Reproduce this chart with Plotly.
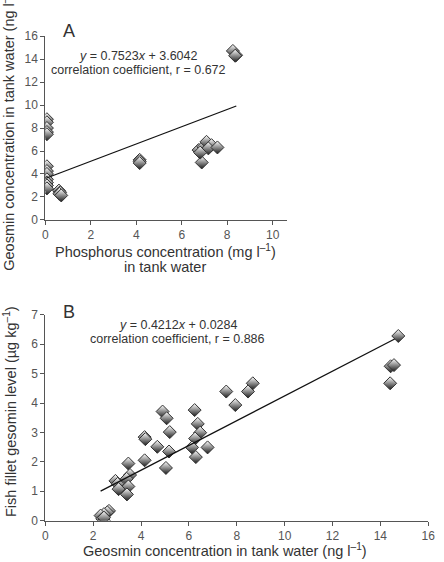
import plotly.graph_objects as go

# Panel A data: phosphorus (mg/l) vs geosmin in tank water (ng/l)
phos = [0.07, 0.07, 0.07, 0.07, 0.07, 0.07, 0.07, 0.07, 0.07, 0.07, 0.07, 0.07,
        0.60, 0.65, 0.62, 0.70,
        4.15, 4.15, 4.15,
        6.74, 6.95, 7.09, 7.31, 7.17, 7.57, 6.88, 6.81,
        8.25, 8.39, 8.35]
geo_water_a = [8.77, 8.50, 8.00, 7.65, 7.46, 4.67, 4.25, 4.00, 3.53, 3.25, 3.00, 2.74,
               2.55, 2.40, 2.27, 2.13,
               5.23, 5.10, 4.95,
               6.08, 6.37, 6.80, 6.51, 6.23, 6.31, 5.00, 5.86,
               14.72, 14.35, 14.30]
fit_a = dict(slope=0.7523, intercept=3.6042, x0=0.0, x1=8.4)

# Panel B data: geosmin in tank water (ng/l) vs fillet geosmin (ug/kg)
geo_water_b = [14.75, 14.43, 14.57, 14.41, 8.67, 8.47, 7.56, 7.94, 6.24, 4.90,
               5.07, 6.37, 6.47, 5.20, 6.26, 4.15, 4.18, 4.68, 5.17, 6.13,
               6.78, 6.29, 5.04, 4.15, 3.47, 3.54, 3.40, 2.93, 3.02, 3.47,
               3.06, 3.41, 2.66, 2.59, 2.45, 2.31, 2.38, 2.45, 2.45]
fillet = [6.28, 5.25, 5.29, 4.67, 4.67, 4.39, 4.39, 3.93, 3.76, 3.71,
          3.48, 3.29, 2.99, 3.01, 2.79, 2.84, 2.77, 2.51, 2.35, 2.49,
          2.49, 2.16, 1.79, 2.05, 1.94, 1.55, 1.42, 1.35, 1.25, 1.16,
          1.07, 0.89, 0.33, 0.28, 0.22, 0.17, 0.06, 0.00, 0.10]
fit_b = dict(slope=0.4212, intercept=0.0284, x0=2.31, x1=14.6)

W, H = 444, 562
def px(x):
    return x / W
def py(y):
    return 1 - y / H

marker = dict(symbol="diamond", size=10, color="white",
              gradient=dict(type="vertical", color="#1a1a1a"),
              line=dict(color="#333333", width=1))

fig = go.Figure()
fig.add_trace(go.Scatter(x=phos, y=geo_water_a, mode="markers", marker=marker,
                         xaxis="x", yaxis="y", showlegend=False))
fa = [fit_a["x0"], fit_a["x1"]]
fig.add_trace(go.Scatter(x=fa, y=[fit_a["slope"] * v + fit_a["intercept"] for v in fa],
                         mode="lines", line=dict(color="#111111", width=1.3),
                         xaxis="x", yaxis="y", showlegend=False))
fig.add_trace(go.Scatter(x=geo_water_b, y=fillet, mode="markers", marker=marker,
                         xaxis="x2", yaxis="y2", showlegend=False))
fb = [fit_b["x0"], fit_b["x1"]]
fig.add_trace(go.Scatter(x=fb, y=[fit_b["slope"] * v + fit_b["intercept"] for v in fb],
                         mode="lines", line=dict(color="#111111", width=1.3),
                         xaxis="x2", yaxis="y2", showlegend=False))

axis_common = dict(showline=True, linecolor="#555555", linewidth=1,
                   ticks="outside", ticklen=4, tickcolor="#555555", tickwidth=1,
                   showgrid=False, zeroline=False,
                   tickfont=dict(family="Liberation Sans, Arial", size=12, color="#555555"))

fig.update_layout(
    width=W, height=H,
    margin=dict(l=0, r=0, t=0, b=0),
    paper_bgcolor="white", plot_bgcolor="white",
    font=dict(family="Liberation Sans, Arial", color="#333333"),
    xaxis=dict(domain=[px(43.3), px(291)], range=[0, 10.65], tickvals=[0, 2, 4, 6, 8, 10],
               anchor="y", **axis_common),
    yaxis=dict(domain=[py(218.3), py(30)], range=[0, 16], dtick=2, anchor="x", **axis_common),
    xaxis2=dict(domain=[px(43.3), px(435)], range=[0, 16], dtick=2, anchor="y2", **axis_common),
    yaxis2=dict(domain=[py(526.7), py(315.7)], range=[0, 7], dtick=1, anchor="x2", **axis_common),
)

def ann(text, x, y, size, angle=0, color="#333333"):
    fig.add_annotation(text=text, x=px(x), y=py(y), xref="paper", yref="paper",
                       xanchor="center", yanchor="middle", showarrow=False,
                       textangle=angle, font=dict(size=size, color=color,
                                                  family="Liberation Sans, Arial"))

ann("A", 68, 25, 18)
ann("B", 68, 313, 18)
ann("<i>y</i> = 0.7523<i>x</i> + 3.6042", 139, 50.7, 12.5)
ann("correlation coefficient, r = 0.672", 139, 64.3, 12.5)
ann("<i>y</i> = 0.4212<i>x</i> + 0.0284", 180, 325.7, 12.5)
ann("correlation coefficient, r = 0.886", 179, 340.7, 12.5)
ann("Phosphorus concentration (mg l<sup>–1</sup>)", 166, 250, 14.5)
ann("in tank water", 166, 267, 14.5)
ann("Geosmin concentration in tank water (ng l<sup>–1</sup>)", 227, 557, 14.5)
ann("Geosmin concentration in tank water (ng l<sup>–1</sup>)", 5, 125, 14.5, angle=-90)
ann("Fish fillet gesomin level (µg kg<sup>–1</sup>)", 7, 414.5, 14.5, angle=-90)

fig.write_html("out.html")
